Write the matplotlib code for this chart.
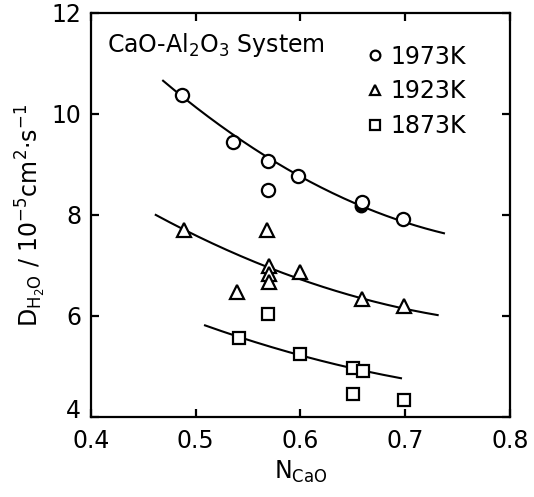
import numpy as np
import matplotlib
matplotlib.use("Agg")
import matplotlib.pyplot as plt
from matplotlib.lines import Line2D
import matplotlib.transforms as mtransforms

# ---- data ----
x_1973 = [0.487, 0.536, 0.569, 0.598, 0.569, 0.659, 0.698]
y_1973 = [10.38, 9.45, 9.06, 8.77, 8.50, 8.25, 7.92]
x_1973_filled = [0.658]
y_1973_filled = [8.17]

x_1923 = [0.489, 0.568, 0.570, 0.570, 0.570, 0.600, 0.540, 0.659, 0.699]
y_1923 = [7.70, 7.70, 6.98, 6.83, 6.68, 6.88, 6.48, 6.33, 6.20]

x_1873 = [0.541, 0.569, 0.600, 0.650, 0.660, 0.650, 0.699]
y_1873 = [5.57, 6.03, 5.25, 4.96, 4.92, 4.46, 4.34]

# fitted curves
cx_1973 = [0.469, 0.487, 0.536, 0.600, 0.659, 0.698, 0.737]
cy_1973 = [10.71, 10.36, 9.46, 8.77, 8.24, 7.92, 7.57]
cx_1923 = [0.462, 0.489, 0.570, 0.660, 0.699, 0.731]
cy_1923 = [8.02, 7.68, 6.97, 6.33, 6.16, 6.01]
cx_1873 = [0.509, 0.541, 0.600, 0.655, 0.696]
cy_1873 = [5.83, 5.56, 5.23, 4.95, 4.76]

labels = ["1973K", "1923K", "1873K"]
xticks = [0.4, 0.5, 0.6, 0.7, 0.8]
yticks = [4, 6, 8, 10, 12]

plt.rcParams['font.family'] = ['DejaVu Sans']
plt.rcParams['mathtext.fontset'] = 'dejavusans'

FS = 17

fig = plt.figure(figsize=(5.34, 4.97), dpi=100)
ax = fig.add_axes([0.170, 0.161, 0.785, 0.813])

def fitcurve(cx, cy):
    p = np.polyfit(cx, cy, 2)
    xs = np.linspace(min(cx), max(cx), 200)
    return xs, np.polyval(p, xs)

for cx, cy in [(cx_1973, cy_1973), (cx_1923, cy_1923), (cx_1873, cy_1873)]:
    xs, ys = fitcurve(cx, cy)
    ax.plot(xs, ys, color='black', lw=1.5, zorder=2)

mk = dict(linestyle='none', markerfacecolor='white', markeredgecolor='black',
          markeredgewidth=1.6, zorder=3)
ax.plot(x_1973_filled, y_1973_filled, marker='o', linestyle='none', color='black',
        markersize=9, zorder=2.5)
ax.plot(x_1973, y_1973, marker='o', markersize=9.5, **mk)
ax.plot(x_1923, y_1923, marker='^', markersize=9.5, **mk)
ax.plot(x_1873, y_1873, marker='s', markersize=9, **mk)

handles = [Line2D([], [], marker=m, markersize=7, **mk) for m in ['o', '^', 's']]
leg = ax.legend(handles, labels, loc='upper left', bbox_to_anchor=(0.633, 0.945),
                frameon=False, fontsize=FS, handlelength=0.8, handletextpad=0.25,
                labelspacing=0.45, borderaxespad=0)

ax.text(0.038, 0.955, r'CaO-Al$_2$O$_3$ System', transform=ax.transAxes,
        fontsize=FS, va='top', ha='left')

ax.set_xlim(0.4, 0.8)
ax.set_ylim(4, 12)
ax.set_xticks(xticks)
ax.set_yticks(yticks)
ax.set_xticklabels([str(t) for t in xticks])
ax.set_yticklabels([str(t) for t in yticks])
ax.tick_params(direction='in', length=6, width=1.6, labelsize=FS,
               top=True, right=True)
ax.tick_params(axis='x', pad=9)
ax.tick_params(axis='y', pad=7)
for s in ax.spines.values():
    s.set_linewidth(1.6)

# raise the lowest y tick label a little, as in the reference
ylabs = ax.get_yticklabels()
ylabs[0].set_transform(ylabs[0].get_transform() +
                       mtransforms.ScaledTranslation(0, 6 / 72, fig.dpi_scale_trans))

ax.set_xlabel(r'N$_{\mathrm{CaO}}$', fontsize=FS, labelpad=4)
ax.set_ylabel(r'D$_{\mathrm{H_2O}}$ / 10$^{-5}$cm$^2$$\cdot$s$^{-1}$', fontsize=FS, labelpad=2)

fig.savefig('out.png', dpi=100)
